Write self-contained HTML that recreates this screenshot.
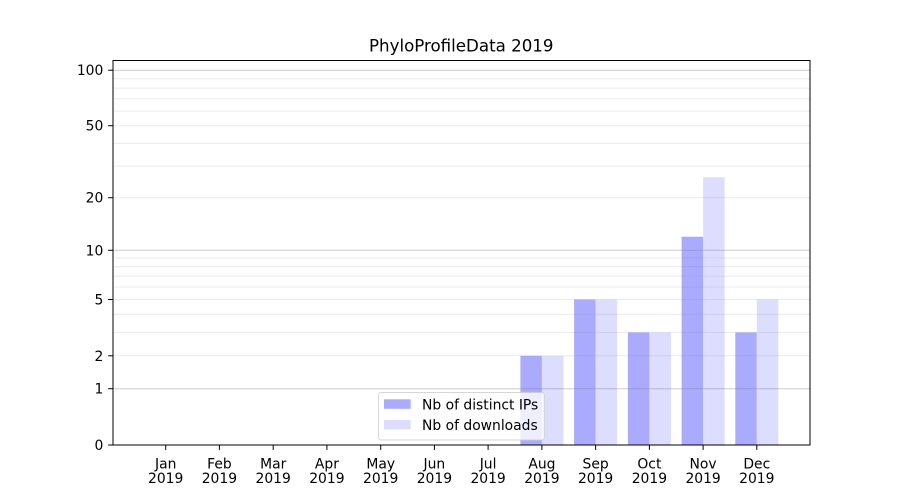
<!DOCTYPE html>
<html><head><meta charset="utf-8"><style>
html,body{margin:0;padding:0;background:#fff;}
svg{display:block;font-family:"DejaVu Sans","Liberation Sans",sans-serif;}
</style></head><body>
<svg width="900" height="500" viewBox="0 0 900 500" xmlns="http://www.w3.org/2000/svg">
<rect width="900" height="500" fill="#fff"/>
<text x="461.25" y="51.5" font-size="16.67" text-anchor="middle" fill="#000">PhyloProfileData 2019</text>
<!-- bars -->
<g>
<rect x="520.4" y="355.8" width="21.5" height="89.2" fill="#aaaaff"/>
<rect x="541.9" y="355.8" width="21.5" height="89.2" fill="#ddddff"/>
<rect x="574.1" y="299.5" width="21.5" height="145.5" fill="#aaaaff"/>
<rect x="595.6" y="299.5" width="21.5" height="145.5" fill="#ddddff"/>
<rect x="627.9" y="332.4" width="21.5" height="112.6" fill="#aaaaff"/>
<rect x="649.4" y="332.4" width="21.5" height="112.6" fill="#ddddff"/>
<rect x="681.6" y="236.7" width="21.5" height="208.3" fill="#aaaaff"/>
<rect x="703.1" y="177.3" width="21.5" height="267.7" fill="#ddddff"/>
<rect x="735.3" y="332.4" width="21.5" height="112.6" fill="#aaaaff"/>
<rect x="756.8" y="299.5" width="21.5" height="145.5" fill="#ddddff"/>
</g>
<!-- minor grid -->
<g stroke="#808080" stroke-opacity="0.15" stroke-width="1">
<line x1="113" x2="810" y1="355.8" y2="355.8"/>
<line x1="113" x2="810" y1="332.4" y2="332.4"/>
<line x1="113" x2="810" y1="314.3" y2="314.3"/>
<line x1="113" x2="810" y1="299.5" y2="299.5"/>
<line x1="113" x2="810" y1="287.0" y2="287.0"/>
<line x1="113" x2="810" y1="276.1" y2="276.1"/>
<line x1="113" x2="810" y1="266.6" y2="266.6"/>
<line x1="113" x2="810" y1="258.0" y2="258.0"/>
<line x1="113" x2="810" y1="197.7" y2="197.7"/>
<line x1="113" x2="810" y1="166.1" y2="166.1"/>
<line x1="113" x2="810" y1="143.4" y2="143.4"/>
<line x1="113" x2="810" y1="125.7" y2="125.7"/>
<line x1="113" x2="810" y1="111.1" y2="111.1"/>
<line x1="113" x2="810" y1="98.8" y2="98.8"/>
<line x1="113" x2="810" y1="88.1" y2="88.1"/>
<line x1="113" x2="810" y1="78.7" y2="78.7"/>
</g>
<!-- major grid -->
<g stroke="#808080" stroke-opacity="0.4" stroke-width="1">
<line x1="113" x2="810" y1="388.7" y2="388.7"/>
<line x1="113" x2="810" y1="250.3" y2="250.3"/>
<line x1="113" x2="810" y1="70.2" y2="70.2"/>
</g>
<!-- axes frame -->
<rect x="113" y="60.5" width="697" height="384.5" fill="none" stroke="#000" stroke-width="1"/>
<!-- y ticks -->
<g stroke="#000" stroke-width="1">
<line x1="108.2" x2="113" y1="445" y2="445"/>
<line x1="108.2" x2="113" y1="388.7" y2="388.7"/>
<line x1="108.2" x2="113" y1="355.8" y2="355.8"/>
<line x1="108.2" x2="113" y1="299.5" y2="299.5"/>
<line x1="108.2" x2="113" y1="250.3" y2="250.3"/>
<line x1="108.2" x2="113" y1="197.7" y2="197.7"/>
<line x1="108.2" x2="113" y1="125.7" y2="125.7"/>
<line x1="108.2" x2="113" y1="70.2" y2="70.2"/>
</g>
<g font-size="13.89" text-anchor="end" fill="#000">
<text x="103.3" y="450">0</text>
<text x="103.3" y="393.7">1</text>
<text x="103.3" y="360.8">2</text>
<text x="103.3" y="304.5">5</text>
<text x="103.3" y="255.3">10</text>
<text x="103.3" y="202.7">20</text>
<text x="103.3" y="130.7">50</text>
<text x="103.3" y="75.2">100</text>
</g>
<!-- x ticks -->
<g stroke="#000" stroke-width="1">
<line x1="165.7" x2="165.7" y1="445" y2="449.9"/>
<line x1="219.4" x2="219.4" y1="445" y2="449.9"/>
<line x1="273.2" x2="273.2" y1="445" y2="449.9"/>
<line x1="326.9" x2="326.9" y1="445" y2="449.9"/>
<line x1="380.7" x2="380.7" y1="445" y2="449.9"/>
<line x1="434.4" x2="434.4" y1="445" y2="449.9"/>
<line x1="488.1" x2="488.1" y1="445" y2="449.9"/>
<line x1="541.9" x2="541.9" y1="445" y2="449.9"/>
<line x1="595.6" x2="595.6" y1="445" y2="449.9"/>
<line x1="649.4" x2="649.4" y1="445" y2="449.9"/>
<line x1="703.1" x2="703.1" y1="445" y2="449.9"/>
<line x1="756.8" x2="756.8" y1="445" y2="449.9"/>
</g>
<g font-size="13.89" text-anchor="middle" fill="#000">
<text x="165.7" y="468.3">Jan</text><text x="165.7" y="483">2019</text>
<text x="219.4" y="468.3">Feb</text><text x="219.4" y="483">2019</text>
<text x="273.2" y="468.3">Mar</text><text x="273.2" y="483">2019</text>
<text x="326.9" y="468.3">Apr</text><text x="326.9" y="483">2019</text>
<text x="380.7" y="468.3">May</text><text x="380.7" y="483">2019</text>
<text x="434.4" y="468.3">Jun</text><text x="434.4" y="483">2019</text>
<text x="488.1" y="468.3">Jul</text><text x="488.1" y="483">2019</text>
<text x="541.9" y="468.3">Aug</text><text x="541.9" y="483">2019</text>
<text x="595.6" y="468.3">Sep</text><text x="595.6" y="483">2019</text>
<text x="649.4" y="468.3">Oct</text><text x="649.4" y="483">2019</text>
<text x="703.1" y="468.3">Nov</text><text x="703.1" y="483">2019</text>
<text x="756.8" y="468.3">Dec</text><text x="756.8" y="483">2019</text>
</g>
<!-- legend -->
<rect x="378.5" y="392.5" width="165.8" height="47.5" rx="2.5" ry="2.5" fill="#fff" fill-opacity="0.8" stroke="#cccccc" stroke-opacity="0.8" stroke-width="1"/>
<rect x="384" y="399.3" width="26.7" height="9.5" fill="#aaaaff"/>
<rect x="384" y="420" width="26.7" height="9.5" fill="#ddddff"/>
<g font-size="13.89" fill="#000">
<text x="422" y="409.3">Nb of distinct IPs</text>
<text x="422" y="430">Nb of downloads</text>
</g>
</svg>
</body></html>
